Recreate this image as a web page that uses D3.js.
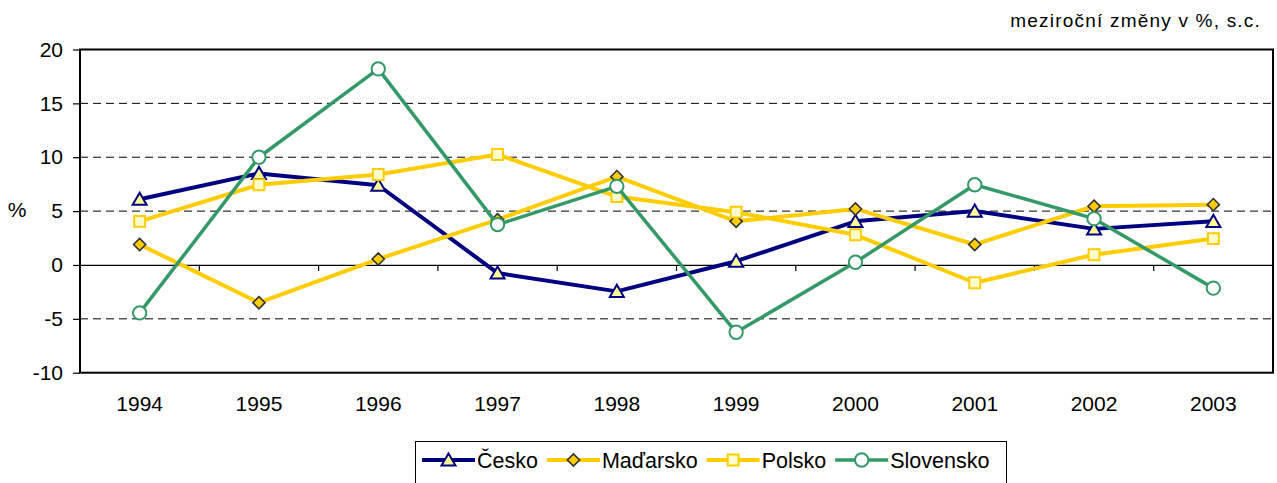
<!DOCTYPE html>
<html>
<head>
<meta charset="utf-8">
<script src="https://cdn.jsdelivr.net/npm/d3@7"></script>
<style>
  body { margin: 0; background: #fff; }
  text { font-family: "Liberation Sans", Arial, sans-serif; fill: #000; }
</style>
</head>
<body>
<script>
// Data
const years = [1994, 1995, 1996, 1997, 1998, 1999, 2000, 2001, 2002, 2003];
const cesko     = [6.1, 8.5, 7.4, -0.75, -2.45, 0.35, 4.05, 5.0, 3.35, 4.05];
const madarsko  = [1.9, -3.5, 0.55, 4.2, 8.2, 4.05, 5.2, 1.9, 5.45, 5.6];
const polsko    = [4.05, 7.45, 8.4, 10.25, 6.35, 4.9, 2.8, -1.65, 0.95, 2.45];
const slovensko = [-4.45, 10.0, 18.2, 3.75, 7.3, -6.25, 0.25, 7.45, 4.3, -2.15];
const seriesNames = ["Česko", "Maďarsko", "Polsko", "Slovensko"];
const yTicks = [-10, -5, 0, 5, 10, 15, 20];
const gridTicks = [-5, 5, 10, 15];

const series = [
  { name: seriesNames[0], values: cesko,     color: "#000080", width: 4,   marker: "triangle", fill: "#FFFF99", stroke: "#000080" },
  { name: seriesNames[1], values: madarsko,  color: "#FFCC00", width: 4,   marker: "diamond",  fill: "#FFCC00", stroke: "#333333" },
  { name: seriesNames[2], values: polsko,    color: "#FFCC00", width: 4,   marker: "square",   fill: "#FFFFCC", stroke: "#FFCC00" },
  { name: seriesNames[3], values: slovensko, color: "#339966", width: 3.5, marker: "circle",   fill: "#FFFFFF", stroke: "#339966" }
];

const width = 1277;
const height = 483;
const marginTop = 49.5;
const marginRight = 4;
const marginBottom = 110.3;
const marginLeft = 80;

const x = d3.scaleBand()
    .domain(years)
    .range([marginLeft, width - marginRight])
    .padding(0);

const y = d3.scaleLinear()
    .domain([-10, 20])
    .range([height - marginBottom, marginTop]);

const cx = d => x(d) + x.bandwidth() / 2;

const svg = d3.select("body").append("svg")
    .attr("width", width)
    .attr("height", height);

// Title at top right
svg.append("text")
    .attr("x", 1261)
    .attr("y", 27)
    .attr("text-anchor", "end")
    .style("font-size", "19px")
    .style("letter-spacing", "1.2px")
    .text("meziroční změny v %, s.c.");

// Dashed gridlines
svg.append("g")
    .selectAll("line")
    .data(gridTicks)
    .join("line")
    .attr("x1", marginLeft)
    .attr("x2", width - marginRight)
    .attr("y1", d => y(d))
    .attr("y2", d => y(d))
    .attr("stroke", "#000")
    .attr("stroke-width", 1)
    .attr("stroke-dasharray", "8,5");

// Zero line with category ticks at band edges
svg.append("g")
    .attr("transform", `translate(0,${y(0)})`)
    .call(d3.axisBottom(x).tickSize(6).tickSizeOuter(0))
    .call(g => g.select(".domain").attr("stroke", "#000").attr("stroke-width", 1.2))
    .call(g => g.selectAll(".tick text").remove())
    .call(g => g.selectAll(".tick line").attr("transform", `translate(${-x.bandwidth() / 2},0)`).attr("stroke-width", 1.2));

// Category labels below the plot
svg.append("g")
    .attr("transform", `translate(0,${height - marginBottom})`)
    .call(d3.axisBottom(x).tickSize(0).tickPadding(23))
    .call(g => g.select(".domain").remove())
    .call(g => g.selectAll("text").style("font-size", "21px").attr("fill", "#000"));

// Y axis
svg.append("g")
    .attr("transform", `translate(${marginLeft},0)`)
    .call(d3.axisLeft(y).tickValues(yTicks).tickSize(7).tickPadding(10).tickFormat(d => String(d)))
    .call(g => g.select(".domain").remove())
    .call(g => g.selectAll("line").attr("stroke", "#000").attr("stroke-width", 1.2))
    .call(g => g.selectAll("text").style("font-size", "21px").attr("fill", "#000"));

svg.append("text")
    .attr("x", 17)
    .attr("y", 210)
    .attr("text-anchor", "middle")
    .attr("dy", "0.35em")
    .style("font-size", "21px")
    .text("%");

// Plot frame
svg.append("rect")
    .attr("x", marginLeft)
    .attr("y", marginTop)
    .attr("width", width - marginRight - marginLeft)
    .attr("height", height - marginBottom - marginTop)
    .attr("fill", "none")
    .attr("stroke", "#000")
    .attr("stroke-width", 2);

const symbols = {
  triangle: d3.symbol().type(d3.symbolTriangle).size(85),
  diamond: d3.symbol().type(d3.symbolDiamond2).size(95),
  square: d3.symbol().type(d3.symbolSquare2).size(150),
  circle: d3.symbol().type(d3.symbolCircle).size(140)
};

const line = d3.line()
    .x((d, i) => cx(years[i]))
    .y(d => y(d));

// Lines and markers, series after series
series.forEach(s => {
  const g = svg.append("g");
  g.append("path")
      .attr("d", line(s.values))
      .attr("fill", "none")
      .attr("stroke", s.color)
      .attr("stroke-width", s.width)
      .attr("stroke-linejoin", "round");
  g.selectAll("path.marker")
      .data(s.values)
      .join("path")
      .attr("class", "marker")
      .attr("d", symbols[s.marker])
      .attr("transform", (d, i) => `translate(${cx(years[i])},${y(d) + (s.marker === "triangle" ? 1.5 : 0)})`)
      .attr("fill", s.fill)
      .attr("stroke", s.stroke)
      .attr("stroke-width", s.marker === "diamond" ? 1.6 : 2);
});

// Legend
const legend = svg.append("g");
legend.append("rect")
    .attr("x", 415.5)
    .attr("y", 441.5)
    .attr("width", 591)
    .attr("height", 60)
    .attr("fill", "#fff")
    .attr("stroke", "#000")
    .attr("stroke-width", 1);

let lx = 422;
const ly = 460;
series.forEach(s => {
  const item = legend.append("g");
  item.append("line")
      .attr("x1", lx).attr("x2", lx + 53)
      .attr("y1", ly).attr("y2", ly)
      .attr("stroke", s.color)
      .attr("stroke-width", s.width);
  item.append("path")
      .attr("d", symbols[s.marker])
      .attr("transform", `translate(${lx + 26.5},${ly + (s.marker === "triangle" ? 1.5 : 0)})`)
      .attr("fill", s.fill)
      .attr("stroke", s.stroke)
      .attr("stroke-width", s.marker === "diamond" ? 1.6 : 2);
  const t = item.append("text")
      .attr("x", lx + 55)
      .attr("y", ly)
      .attr("dy", "0.35em")
      .style("font-size", "21.5px")
      .text(s.name);
  lx += 55 + t.node().getComputedTextLength() + 9;
});
</script>
</body>
</html>
